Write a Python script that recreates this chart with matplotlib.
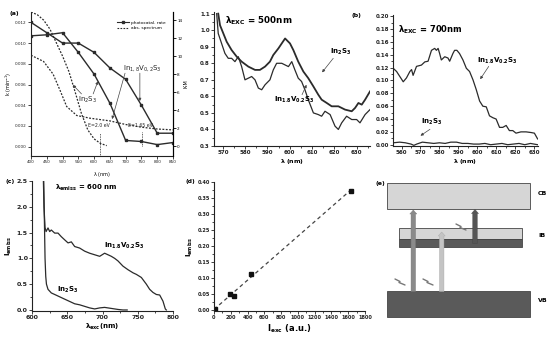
import numpy as np
import matplotlib
matplotlib.use("Agg")
import matplotlib.pyplot as plt
from matplotlib.lines import Line2D
from matplotlib.patches import Rectangle, FancyArrow
from matplotlib.ticker import AutoMinorLocator

plt.rcParams['font.family'] = ['DejaVu Sans']
plt.rcParams['mathtext.default'] = 'regular'

# ---------------- data ----------------
# (a) photocatalytic rate (left axis, k) and absorption (right axis, K-M)
a_wl = [400, 450, 500, 550, 600, 650, 700, 750, 800, 850]
a_rate_in2s3 = [0.0107, 0.0108, 0.0110, 0.0091, 0.0070, 0.0042, 0.0006, 0.0005, 0.0002, 0.0004]
a_rate_v = [0.0120, 0.0110, 0.0100, 0.0100, 0.0091, 0.0076, 0.0065, 0.0040, 0.0013, 0.0013]
a_abs_wl_in2s3 = [400, 420, 440, 460, 480, 500, 520, 540, 560, 580, 600, 620, 640]
a_abs_in2s3 = [14.9, 14.6, 14.0, 13.0, 11.5, 10.0, 8.3, 6.0, 3.6, 1.8, 0.8, 0.3, 0.05]
a_abs_wl_v = [400, 440, 470, 492, 513, 545, 587, 650, 700, 750, 800, 850]
a_abs_v = [10.1, 9.4, 8.0, 6.2, 4.4, 3.4, 3.1, 2.8, 2.4, 2.1, 1.9, 1.8]

# (b) emission, excitation 500 nm
b_wl_in2s3 = [567.9, 568.7, 570.2, 571.7, 573.9, 576.2, 578.4, 581.4, 584.4, 586.6, 588.9, 591.1,
              592.6, 594.9, 596.4, 597.9, 600.1, 601.6, 603.8, 606.1, 608.3, 610.6, 612.8, 614.3,
              616.6, 618.8, 621.8, 624.8, 627.8, 629.3, 630.8, 632.3, 633.8, 636.0]
b_in2s3 = [1.10, 1.03, 0.98, 0.93, 0.88, 0.84, 0.81, 0.78, 0.76, 0.76, 0.78, 0.81,
           0.85, 0.89, 0.92, 0.95, 0.92, 0.88, 0.81, 0.75, 0.71, 0.66, 0.61, 0.58,
           0.56, 0.54, 0.54, 0.52, 0.51, 0.53, 0.56, 0.55, 0.58, 0.63]
b_wl_v = [567.2, 567.9, 569.4, 570.9, 572.4, 573.9, 575.4, 576.9, 578.4, 579.9, 581.4, 582.9,
          584.4, 585.9, 587.4, 588.9, 591.1, 592.6, 594.1, 596.4, 597.9, 599.4, 600.9, 602.3,
          603.8, 605.3, 606.8, 608.3, 610.6, 612.8, 614.3, 615.8, 618.1, 620.3, 621.8, 623.3,
          625.5, 627.8, 630.0, 631.5, 633.8, 636.0]
b_v = [1.10, 0.98, 0.92, 0.86, 0.83, 0.83, 0.81, 0.84, 0.78, 0.70, 0.71, 0.72,
       0.70, 0.65, 0.64, 0.67, 0.70, 0.76, 0.80, 0.80, 0.79, 0.78, 0.81, 0.76,
       0.71, 0.69, 0.64, 0.58, 0.50, 0.49, 0.48, 0.51, 0.49, 0.42, 0.40, 0.44,
       0.48, 0.46, 0.46, 0.44, 0.49, 0.52]

# (b') emission, excitation 700 nm
b2_wl_v = [555.6, 557.4, 560.9, 562.6, 564.4, 565.3, 566.1, 567.9, 570.5, 572.3, 574.0, 575.8,
           577.5, 578.4, 579.3, 580.1, 581.0, 582.8, 584.5, 585.4, 587.1, 588.0, 589.2, 590.6,
           592.4, 594.2, 595.9, 597.7, 599.4, 601.2, 602.9, 604.7, 606.4, 608.2, 609.9, 611.7,
           613.4, 615.2, 616.9, 618.7, 620.4, 623.0, 625.7, 628.3, 630.1, 631.8]
b2_v = [0.119, 0.114, 0.098, 0.104, 0.114, 0.117, 0.108, 0.122, 0.124, 0.129, 0.130, 0.147,
        0.150, 0.147, 0.150, 0.142, 0.132, 0.137, 0.135, 0.130, 0.142, 0.147, 0.147, 0.142,
        0.132, 0.119, 0.114, 0.101, 0.086, 0.068, 0.060, 0.059, 0.045, 0.042, 0.040, 0.027,
        0.027, 0.030, 0.022, 0.022, 0.018, 0.020, 0.020, 0.019, 0.018, 0.009]
b2_wl_in2s3 = [555.6, 559, 562, 565, 566.5, 568, 571, 574, 577, 580, 583, 586, 589, 592, 595,
               598, 601, 604, 607, 610, 613, 616, 619, 622, 625, 628, 631.8]
b2_in2s3 = [0.003, 0.004, 0.003, 0.001, -0.001, 0.001, 0.004, 0.003, 0.002, 0.003, 0.002, 0.004,
            0.004, 0.002, 0.002, 0.001, 0.001, 0.002, 0.000, 0.001, 0.002, 0.000, 0.001, 0.002,
            0.000, 0.002, 0.000]

# (c) excitation spectra, emission 600 nm
c_wl_in2s3 = [615.5, 616.5, 617.5, 618.5, 619.5, 620.5, 622.7, 627.4, 632.2, 636.9, 646.3, 655.8,
              660.5, 667.6, 674.7, 681.8, 688.9, 696.0, 703.0, 712.5, 722.0, 729.0, 735.0]
c_in2s3 = [3.0, 2.6, 1.8, 1.0, 0.65, 0.50, 0.40, 0.33, 0.30, 0.27, 0.21, 0.15,
           0.12, 0.10, 0.07, 0.04, 0.02, 0.04, 0.05, 0.03, 0.01, 0.0, 0.0]
c_wl_v = [615.0, 616.0, 617.0, 618.5, 620.0, 622.7, 625.1, 627.4, 632.2, 636.9, 641.6, 646.3,
          651.1, 655.8, 660.5, 667.6, 674.7, 681.8, 688.9, 696.0, 703.0, 707.8, 712.5, 717.3,
          722.0, 729.0, 736.2, 743.3, 748.0, 755.1, 762.2, 766.9, 771.6, 776.4, 781.1, 785.8,
          789.1, 790.5]
c_v = [3.0, 2.6, 2.0, 1.6, 1.52, 1.59, 1.52, 1.55, 1.49, 1.49, 1.42, 1.36,
       1.30, 1.32, 1.23, 1.20, 1.14, 1.10, 1.07, 1.04, 1.10, 1.07, 1.04, 1.00,
       0.95, 0.85, 0.78, 0.72, 0.69, 0.63, 0.50, 0.40, 0.34, 0.30, 0.29, 0.17,
       0.02, 0.0]

# (d) emission intensity vs excitation intensity
d_iexc = [15, 185, 240, 440, 1630]
d_iem = [0.003, 0.051, 0.046, 0.114, 0.373]

# ---------------- figure ----------------
W, H = 550, 342
fig = plt.figure(figsize=(5.5, 3.42), dpi=100)


def rect(x0, y0, x1, y1):
    return [x0 / W, 1 - y1 / H, (x1 - x0) / W, (y1 - y0) / H]


def ftext(x, y, s, **kw):
    fig.text(x / W, 1 - y / H, s, **kw)


LC = '#2b2b2b'


def style(ax, size=4, bold=True, minor=True):
    for s in ['top', 'right']:
        ax.spines[s].set_visible(False)
    for s in ['left', 'bottom']:
        ax.spines[s].set_linewidth(0.8)
        ax.spines[s].set_color('#222222')
    ax.tick_params(direction='out', length=2, width=0.6, labelsize=size, pad=1, colors='#222222')
    if minor:
        ax.xaxis.set_minor_locator(AutoMinorLocator(2))
        ax.yaxis.set_minor_locator(AutoMinorLocator(2))
        ax.tick_params(which='minor', direction='out', length=1.2, width=0.5)
    if bold:
        plt.setp(ax.get_xticklabels() + ax.get_yticklabels(), fontweight='bold')


def arrow(ax, xy_from, xy_to):
    ax.annotate('', xy=xy_to, xytext=xy_from,
                arrowprops=dict(arrowstyle='-|>', lw=0.5, color='#444444',
                                mutation_scale=4, shrinkA=0, shrinkB=0))


# ----- (a) -----
ax_a = fig.add_axes(rect(31, 12, 173, 156))
ax_a.plot(a_wl, a_rate_in2s3, color=LC, lw=1.0, marker='s', ms=1.8)
ax_a.plot(a_wl, a_rate_v, color=LC, lw=1.0, marker='s', ms=1.8)
ax_a.set_xlim(400, 850)
ax_a.set_ylim(-0.0009, 0.0130)
ax_a.set_xticks(np.arange(400, 851, 50))
ax_a.set_yticks(np.arange(0, 0.0121, 0.002))
ax_a.set_yticklabels(['%.3f' % v for v in np.arange(0, 0.0121, 0.002)])
style(ax_a, size=3, bold=False, minor=False)
ax_a.spines['right'].set_visible(True)
ax_a.spines['right'].set_linewidth(0.8)
ax_a.set_ylabel(r'k (min$^{-1}$)', fontsize=3.5, labelpad=1)
ax_a.set_xlabel(r'$\lambda$ (nm)', fontsize=3.5, labelpad=4)

ax_a2 = ax_a.twinx()
ax_a2.plot(a_abs_wl_in2s3, a_abs_in2s3, color=LC, lw=0.9, ls=(0, (1.5, 1.2)))
ax_a2.plot(a_abs_wl_v, a_abs_v, color=LC, lw=0.9, ls=(0, (1.5, 1.2)))
ax_a2.set_ylim(-1.1, 14.9)
ax_a2.set_yticks(np.arange(0, 15, 2))
ax_a2.tick_params(direction='out', length=2, width=0.6, labelsize=3, pad=1)
for s in ['top', 'left', 'bottom']:
    ax_a2.spines[s].set_visible(False)
ax_a2.spines['right'].set_linewidth(0.8)
ax_a2.set_ylabel('K-M', fontsize=3.5, labelpad=1)

# E markers
ax_a2.plot([620, 620], [-1.1, 1.5], color=LC, lw=0.6, ls=(0, (1, 1)))
ax_a2.plot([751, 751], [0.0, 1.6], color=LC, lw=0.6, ls=(0, (1, 1)))
ax_a2.text(580, 2.1, 'E=2.0 eV', fontsize=3.3, color='#222222')
ax_a2.text(706, 2.1, 'E=1.65 eV', fontsize=3.3, color='#222222')
ax_a2.text(579, 5.1, r'In$_2$S$_3$', fontsize=5, ha='center', va='center', color='#222222')
arrow(ax_a2, (560, 5.8), (533, 6.8))
arrow(ax_a2, (597, 5.8), (612, 7.2))
ax_a2.text(752, 8.7, r'In$_{1,8}$V$_{0,2}$S$_3$', fontsize=5, ha='center', va='center', color='#222222')
arrow(ax_a2, (698, 8.1), (657, 3.0))
arrow(ax_a2, (745, 8.1), (745, 5.0))

handles = [Line2D([], [], color=LC, lw=0.8, marker='s', ms=1.8),
           Line2D([], [], color=LC, lw=0.8, ls=(0, (1.5, 1.2)))]
ax_a2.legend(handles, ['photocatal. rate', 'abs. spectrum'], loc='upper right',
             bbox_to_anchor=(0.97, 0.96), fontsize=3.2, frameon=False, handlelength=2.6,
             labelspacing=0.3, borderpad=0.2, handletextpad=0.5)
ftext(9, 14, '(a)', fontsize=4.5, fontweight='bold', va='center')

# ----- (b) -----
ax_b = fig.add_axes(rect(214, 12, 370, 146))
ax_b.plot(b_wl_in2s3, b_in2s3, color=LC, lw=1.3)
ax_b.plot(b_wl_v, b_v, color=LC, lw=0.9)
ax_b.set_xlim(566, 636)
ax_b.set_ylim(0.3, 1.11)
ax_b.set_xticks(np.arange(570, 631, 10))
ax_b.set_yticks(np.round(np.arange(0.3, 1.11, 0.1), 1))
style(ax_b, size=4)
ax_b.set_xlabel(r'$\lambda$ (nm)', fontsize=4.5, fontweight='bold', labelpad=1.5)
ax_b.text(571, 1.06, r'$\lambda_{EXC}$ = 500nm', fontsize=6.3, fontweight='bold', va='center')
ax_b.text(618, 0.87, r'In$_2$S$_3$', fontsize=5, fontweight='bold', va='center')
arrow(ax_b, (619.5, 0.83), (614.5, 0.745))
ax_b.text(602, 0.58, r'In$_{1.8}$V$_{0.2}$S$_3$', fontsize=5, fontweight='bold', va='center', ha='center')
arrow(ax_b, (605.5, 0.61), (607.5, 0.67))
ftext(352, 15, '(b)', fontsize=4.5, fontweight='bold', va='center')

# ----- (b') -----
ax_b2 = fig.add_axes(rect(393, 15, 538, 146))
ax_b2.plot(b2_wl_v, b2_v, color=LC, lw=0.9)
ax_b2.plot(b2_wl_in2s3, b2_in2s3, color=LC, lw=0.9)
ax_b2.set_xlim(555.5, 632)
ax_b2.set_ylim(-0.002, 0.202)
ax_b2.set_xticks(np.arange(560, 631, 10))
ax_b2.set_yticks(np.round(np.arange(0, 0.201, 0.02), 2))
ax_b2.set_yticklabels(['%.2f' % v for v in np.arange(0, 0.201, 0.02)])
style(ax_b2, size=4)
ax_b2.set_xlabel(r'$\lambda$ (nm)', fontsize=4.5, fontweight='bold', labelpad=1.5)
ax_b2.text(558, 0.179, r'$\lambda_{EXC}$ = 700nm', fontsize=6, fontweight='bold', va='center')
ax_b2.text(600, 0.131, r'In$_{1.8}$V$_{0.2}$S$_3$', fontsize=5, fontweight='bold', va='center')
arrow(ax_b2, (606, 0.122), (601.5, 0.102))
ax_b2.text(576, 0.035, r'In$_2$S$_3$', fontsize=5, fontweight='bold', va='center', ha='center')
arrow(ax_b2, (575, 0.024), (570, 0.014))

# ----- (c) -----
ax_c = fig.add_axes(rect(32, 181, 173, 311))
ax_c.plot(c_wl_in2s3, c_in2s3, color=LC, lw=0.9)
ax_c.plot(c_wl_v, c_v, color=LC, lw=0.9)
ax_c.set_xlim(600, 800)
ax_c.set_ylim(-0.02, 2.5)
ax_c.set_xticks(np.arange(600, 801, 50))
ax_c.set_yticks([0, 0.5, 1.0, 1.5, 2.0, 2.5])
style(ax_c, size=4.5)
ax_c.set_xlabel(r'$\lambda_{exc}$(nm)', fontsize=5, fontweight='bold', labelpad=1.5)
ax_c.set_ylabel(r'I$_{emiss}$', fontsize=5, fontweight='bold', labelpad=2)
ax_c.text(632, 2.36, r'$\lambda_{emiss}$ = 600 nm', fontsize=5, fontweight='bold', va='center')
ax_c.text(702, 1.25, r'In$_{1.8}$V$_{0.2}$S$_3$', fontsize=5, fontweight='bold', va='center')
ax_c.text(636, 0.38, r'In$_2$S$_3$', fontsize=5, fontweight='bold', va='center')
ftext(5, 181, '(c)', fontsize=4.5, fontweight='bold', va='center')

# ----- (d) -----
ax_d = fig.add_axes(rect(214, 182, 365, 311))
coef = np.polyfit(d_iexc, d_iem, 1)
fx = np.array([0, 1650])
ax_d.plot(fx, np.polyval(coef, fx), color='#444444', lw=0.9, ls=(0, (3, 2.5)))
ax_d.plot(d_iexc, d_iem, ls='none', marker='s', ms=2.6, color='#111111')
ax_d.set_xlim(0, 1800)
ax_d.set_ylim(-0.002, 0.40)
ax_d.set_xticks(np.arange(0, 1801, 200))
ax_d.set_yticks(np.round(np.arange(0, 0.401, 0.05), 2))
ax_d.set_yticklabels(['%.2f' % v for v in np.arange(0, 0.401, 0.05)])
style(ax_d, size=3.6)
ax_d.set_xlabel(r'I$_{exc}$ (a.u.)', fontsize=6, fontweight='bold', labelpad=1.5)
ax_d.set_ylabel(r'I$_{emiss}$', fontsize=5, fontweight='bold', labelpad=2)
ftext(186, 182, '(d)', fontsize=4.2, fontweight='bold', va='center')

# ----- (e) band diagram -----
ax_e = fig.add_axes(rect(375, 170, 550, 342))
ax_e.set_xlim(375, 550)
ax_e.set_ylim(342, 170)
ax_e.axis('off')
ax_e.add_patch(Rectangle((386.7, 183.3), 143.3, 26, facecolor='#d6d6d6', edgecolor='#444444', lw=0.6))
ax_e.add_patch(Rectangle((399.3, 228.3), 122.4, 10.7, facecolor='#d6d6d6', edgecolor='#444444', lw=0.6))
ax_e.add_patch(Rectangle((399.3, 239), 122.4, 7.7, facecolor='#5a5a5a', edgecolor='#444444', lw=0.6))
ax_e.add_patch(Rectangle((386.7, 291), 143.3, 25.7, facecolor='#5a5a5a', edgecolor='#444444', lw=0.6))
ax_e.add_patch(FancyArrow(413.3, 291.5, 0, -81.5, width=4.5, head_width=7, head_length=4,
                          length_includes_head=True, facecolor='#8a8a8a', edgecolor='#777777', lw=0.3))
ax_e.add_patch(FancyArrow(441.7, 291.5, 0, -59.5, width=4.5, head_width=7, head_length=4,
                          length_includes_head=True, facecolor='#c4c4c4', edgecolor='#aaaaaa', lw=0.3))
ax_e.add_patch(FancyArrow(475, 243.5, 0, -34, width=4.5, head_width=7, head_length=4,
                          length_includes_head=True, facecolor='#555555', edgecolor='#444444', lw=0.3))
for (x0, y0) in [(395, 279), (423, 279), (456, 224)]:
    ax_e.plot([x0, x0 + 5, x0 + 4, x0 + 10], [y0, y0 + 2.5, y0 + 3.5, y0 + 6],
              color='#777777', lw=1.0, solid_capstyle='round')
ax_e.text(538, 193.3, 'CB', fontsize=4.5, fontweight='bold', va='center')
ax_e.text(538, 235.7, 'IB', fontsize=4.5, fontweight='bold', va='center')
ax_e.text(538, 300, 'VB', fontsize=4.5, fontweight='bold', va='center')
ax_e.text(375, 183.3, '(e)', fontsize=4.5, fontweight='bold', va='center')

fig.savefig('out.png', dpi=100)
